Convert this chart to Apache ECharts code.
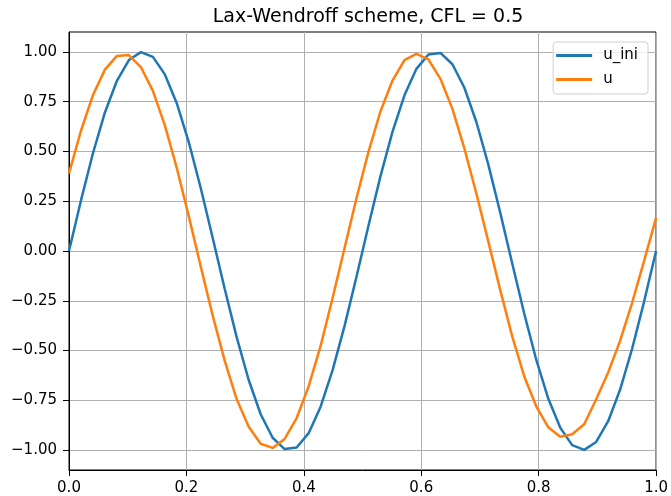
<!DOCTYPE html>
<html>
<head>
<meta charset="utf-8">
<script src="https://cdn.jsdelivr.net/npm/echarts@6/dist/echarts.min.js"></script>
<style>
  html, body { margin: 0; padding: 0; background: #fff; }
  #chart { width: 671px; height: 496px; }
</style>
</head>
<body>
<div id="chart"></div>
<script>
// grid points x_i = i / 49
var xs = [0, 0.0204, 0.0408, 0.0612, 0.0816, 0.1020, 0.1224, 0.1429, 0.1633, 0.1837,
  0.2041, 0.2245, 0.2449, 0.2653, 0.2857, 0.3061, 0.3265, 0.3469, 0.3673, 0.3878,
  0.4082, 0.4286, 0.4490, 0.4694, 0.4898, 0.5102, 0.5306, 0.5510, 0.5714, 0.5918,
  0.6122, 0.6327, 0.6531, 0.6735, 0.6939, 0.7143, 0.7347, 0.7551, 0.7755, 0.7959,
  0.8163, 0.8367, 0.8571, 0.8776, 0.8980, 0.9184, 0.9388, 0.9592, 0.9796, 1.0]

// initial condition
var uIni = [0, 0.254, 0.491, 0.696, 0.855, 0.959, 0.999, 0.975, 0.887, 0.741,
  0.546, 0.315, 0.064, -0.191, -0.434, -0.648, -0.820, -0.938, -0.995, -0.987,
  -0.915, -0.782, -0.598, -0.376, -0.128, 0.128, 0.376, 0.598, 0.782, 0.915,
  0.987, 0.995, 0.938, 0.820, 0.648, 0.434, 0.191, -0.064, -0.315, -0.546,
  -0.741, -0.887, -0.975, -0.999, -0.959, -0.855, -0.696, -0.491, -0.254, 0]

// numerical solution
var u = [0.390, 0.604, 0.783, 0.911, 0.980, 0.984, 0.924, 0.804, 0.631, 0.416,
  0.174, -0.079, -0.326, -0.552, -0.745, -0.883, -0.968, -0.989, -0.944, -0.839,
  -0.680, -0.477, -0.236, 0.015, 0.266, 0.499, 0.702, 0.856, 0.959, 0.990,
  0.962, 0.865, 0.714, 0.515, 0.289, 0.047, -0.198, -0.430, -0.630, -0.780,
  -0.885, -0.933, -0.920, -0.870, -0.745, -0.610, -0.450, -0.260, -0.050, 0.166]

var yTicks = [-1, -0.75, -0.5, -0.25, 0, 0.25, 0.5, 0.75, 1]

function pairs (ys) {
  return xs.map(function (x, i) { return [x, ys[i]] })
}

var chart = echarts.init(document.getElementById('chart'))
var font = 'DejaVu Sans'

chart.setOption({
  animation: false,
  title: {
    text: 'Lax-Wendroff scheme, CFL = 0.5',
    left: 363,
    textAlign: 'center',
    top: 3,
    textStyle: { fontFamily: font, fontSize: 19, fontWeight: 'normal', color: '#000' }
  },
  legend: {
    orient: 'vertical',
    right: 23,
    top: 42,
    itemWidth: 36,
    itemHeight: 3,
    itemGap: 9,
    icon: 'rect',
    padding: [6, 10, 7, 3],
    borderColor: '#d0d0d0',
    borderWidth: 1,
    borderRadius: 3,
    backgroundColor: 'rgba(255,255,255,0.8)',
    textStyle: { fontFamily: font, fontSize: 15, color: '#000', padding: [0, 0, 0, 6] },
    data: ['u_ini', 'u']
  },
  grid: {
    left: 69,
    right: 14,
    top: 32,
    bottom: 25,
    show: true,
    borderColor: '#000',
    borderWidth: 1,
    backgroundColor: 'transparent'
  },
  xAxis: {
    type: 'value',
    min: 0,
    max: 1,
    interval: 0.2,
    axisLine: { show: true, onZero: false, lineStyle: { color: '#000', width: 1 } },
    axisTick: { show: true, length: 6, lineStyle: { color: '#000', width: 1 } },
    axisLabel: {
      margin: 11,
      fontFamily: font,
      fontSize: 15,
      color: '#000',
      formatter: function (v) { return v.toFixed(1) }
    },
    splitLine: { show: true, lineStyle: { color: '#b0b0b0', width: 1 } }
  },
  yAxis: {
    type: 'value',
    min: -1.1,
    max: 1.1,
    axisLine: { show: true, onZero: false, lineStyle: { color: '#000', width: 1 } },
    axisTick: { show: true, length: 6, customValues: yTicks, lineStyle: { color: '#000', width: 1 } },
    axisLabel: {
      margin: 12,
      fontFamily: font,
      fontSize: 15,
      color: '#000',
      customValues: yTicks,
      formatter: function (v) { return v.toFixed(2).replace('-', '\u2212') }
    },
    splitLine: { show: true, lineStyle: { color: '#b0b0b0', width: 1 } }
  },
  series: [
    {
      name: 'u_ini',
      type: 'line',
      data: pairs(uIni),
      symbol: 'none',
      color: '#1f77b4',
      lineStyle: { width: 2.5 }
    },
    {
      name: 'u',
      type: 'line',
      data: pairs(u),
      symbol: 'none',
      color: '#ff7f0e',
      lineStyle: { width: 2.5 }
    }
  ]
})
</script>
</body>
</html>
